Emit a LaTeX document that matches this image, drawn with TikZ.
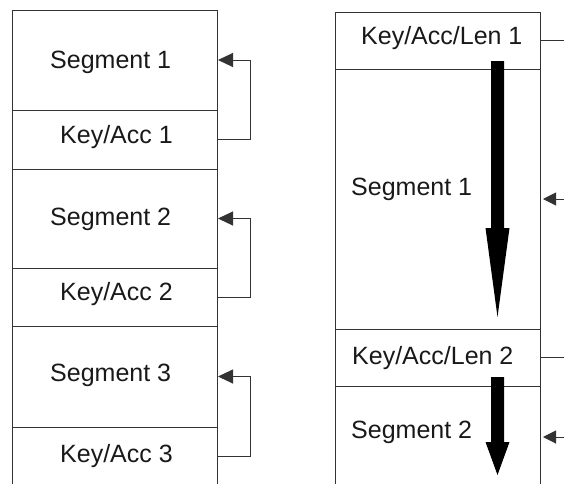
\documentclass[tikz,border=0pt]{standalone}
\usepackage{fontspec}
\setmainfont{Liberation Sans}
\usetikzlibrary{arrows.meta}
\begin{document}
\begin{tikzpicture}[x=1pt,y=-1pt,
  frame/.style={draw=black!80, line width=1pt},
  cell/.style={inner sep=0pt, outer sep=0pt, minimum width=205pt},
  lbl/.style={inner sep=0pt, anchor=base west, font=\fontsize{25}{30}\selectfont, text=black!90},
  link/.style={draw=black!80, line width=1pt},
  ltip/.style={-{Triangle[length=15pt,width=14pt]}},
  rtip/.style={-{Triangle[length=13pt,width=13pt]}},
  bigarrow/.style={fill=black}]
\useasboundingbox (0,0) rectangle (564,483);
\begin{scope}
\clip (0,0) rectangle (564,483);
% left column cells
\node[cell, frame, minimum height=100pt] (s1) at (114.5,60) {};
\node[cell, frame, minimum height=59pt] (k1) at (114.5,139.5) {};
\node[cell, frame, minimum height=99pt] (s2) at (114.5,218.5) {};
\node[cell, frame, minimum height=58pt] (k2) at (114.5,297) {};
\node[cell, frame, minimum height=101pt] (s3) at (114.5,376.5) {};
\node[cell, minimum height=58pt] (k3) at (114.5,456) {};
\draw[frame] (k3.south west) -- (k3.north west) -- (k3.north east) -- (k3.south east);
% right column cells
\node[cell, frame, minimum height=57pt] (K1) at (437.5,40.5) {};
\node[cell, frame, minimum height=260pt] (S1) at (437.5,199) {};
\node[cell, frame, minimum height=57pt] (K2) at (437.5,357.5) {};
\node[cell, minimum height=102pt] (S2) at (437.5,437) {};
\draw[frame] (S2.south west) -- (S2.north west) -- (S2.north east) -- (S2.south east);
% labels left
\node[lbl] (ts1) at (50,68.3) {Segment 1};
\node[lbl] (tk1) at (60,143.3) {Key/Acc 1};
\node[lbl] (ts2) at (50,225.7) {Segment 2};
\node[lbl] (tk2) at (60,300) {Key/Acc 2};
\node[lbl] (ts3) at (50,381) {Segment 3};
\node[lbl] (tk3) at (60,462.7) {Key/Acc 3};
% labels right
\node[lbl] (tK1) at (361,44.3) {Key/Acc/Len 1};
\node[lbl] (tS1) at (351,195) {Segment 1};
\node[lbl] (tK2) at (352,364) {Key/Acc/Len 2};
\node[lbl] (tS2) at (351,438.3) {Segment 2};
% left connectors
\draw[link, ltip] (k1.east) -- ++(33,0) |- ([xshift=1pt]s1.east);
\draw[link, ltip] (k2.east) -- ++(33,0) |- ([xshift=1pt]s2.east);
\draw[link, ltip] (k3.east) -- ++(33,0) |- ([xshift=1pt]s3.east);
% right connectors
\coordinate (eK1) at (570,40.5);
\coordinate (eK2) at (570,357.5);
\coordinate (eS1) at (570,199);
\coordinate (eS2) at (570,437);
\draw[link] (K1.east) -- (eK1);
\draw[link] (K2.east) -- (eK2);
\draw[link, rtip] (eS1) -- ([xshift=3pt]S1.east);
\draw[link, rtip] (eS2) -- ([xshift=3pt]S2.east);
% big arrows
\fill[bigarrow] (491,61) -- (504,61) -- (504,228) -- (509.5,228) -- (497.5,317) -- (485.5,228) -- (491,228) -- cycle;
\fill[bigarrow] (491,377) -- (504,377) -- (504,442) -- (509.5,442) -- (497.5,475) -- (485.5,442) -- (491,442) -- cycle;
\end{scope}
\end{tikzpicture}
\end{document}
